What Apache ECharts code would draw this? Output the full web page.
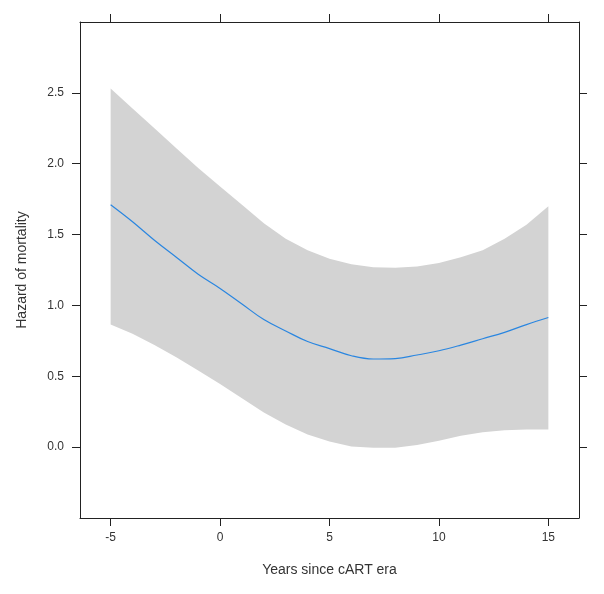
<!DOCTYPE html>
<html>
<head>
<meta charset="utf-8">
<script src="https://cdn.jsdelivr.net/npm/echarts@6/dist/echarts.min.js"></script>
<style>html,body{margin:0;padding:0;background:#fff;}#c{width:604px;height:594px;}</style>
</head>
<body>
<div id="c"></div>
<script>
var years = [-5,-4,-3,-2,-1,0,1,2,3,4,5,6,7,8,9,10,11,12,13,14,15];
var hazard = [1.71,1.59,1.46,1.34,1.22,1.12,1.01,0.90,0.82,0.745,0.695,0.645,0.622,0.625,0.65,0.68,0.72,0.765,0.81,0.865,0.915];
var upper = [2.53,2.39,2.25,2.11,1.97,1.84,1.71,1.58,1.47,1.39,1.33,1.29,1.27,1.265,1.275,1.30,1.34,1.39,1.47,1.57,1.70];
var lower = [0.865,0.80,0.72,0.635,0.54,0.445,0.345,0.245,0.16,0.09,0.04,0.005,-0.005,-0.005,0.015,0.045,0.08,0.105,0.12,0.125,0.125];
var xTicks = [-5,0,5,10,15];
var yTicks = [0,0.5,1,1.5,2,2.5];

var bandData = years.map(function(x,i){return [x, lower[i], upper[i]];});
var lineData = years.map(function(x,i){return [x, hazard[i]];});

var axisCol = '#222';
var txtCol = '#333';
var font = 'Liberation Sans, Arial, sans-serif';

function renderBand(params, api) {
  if (params.dataIndex !== 0) return null;
  var pts = [];
  for (var i = 0; i < years.length; i++) pts.push(api.coord([years[i], upper[i]]));
  for (var j = years.length - 1; j >= 0; j--) pts.push(api.coord([years[j], lower[j]]));
  return {type: 'polygon', shape: {points: pts}, style: {fill: '#d3d3d3', stroke: null}, silent: true};
}

var chart = echarts.init(document.getElementById('c'), null, {renderer:'canvas'});
chart.setOption({
  animation: false,
  backgroundColor: '#fff',
  grid: {left: 80, right: 25, top: 22, bottom: 76},
  xAxis: [{
    type: 'value', min: -6.4, max: 16.4, position: 'bottom', z: 10,
    name: 'Years since cART era', nameLocation: 'middle', nameGap: 45,
    nameTextStyle: {color: txtCol, fontSize: 14, fontFamily: font},
    axisLine: {show: true, onZero: false, lineStyle: {color: axisCol, width: 1}},
    axisTick: {show: true, inside: false, length: 8, customValues: xTicks, lineStyle: {color: axisCol}},
    axisLabel: {show: true, margin: 14, customValues: xTicks, color: txtCol, fontSize: 12, fontFamily: font},
    splitLine: {show: false}
  }, {
    type: 'value', min: -6.4, max: 16.4, position: 'top', z: 10,
    axisLine: {show: true, onZero: false, lineStyle: {color: axisCol, width: 1}},
    axisTick: {show: true, inside: false, length: 8, customValues: xTicks, lineStyle: {color: axisCol}},
    axisLabel: {show: false},
    splitLine: {show: false}
  }],
  yAxis: [{
    type: 'value', min: -0.5, max: 3.0, position: 'left', z: 10,
    name: 'Hazard of mortality', nameLocation: 'middle', nameGap: 51, nameRotate: 90,
    nameTextStyle: {color: txtCol, fontSize: 14, fontFamily: font},
    axisLine: {show: true, onZero: false, lineStyle: {color: axisCol, width: 1}},
    axisTick: {show: true, inside: false, length: 8, customValues: yTicks, lineStyle: {color: axisCol}},
    axisLabel: {show: true, margin: 16, customValues: yTicks, color: txtCol, fontSize: 12, fontFamily: font,
      formatter: function(v){return v.toFixed(1);}},
    splitLine: {show: false}
  }, {
    type: 'value', min: -0.5, max: 3.0, position: 'right', z: 10,
    axisLine: {show: true, onZero: false, lineStyle: {color: axisCol, width: 1}},
    axisTick: {show: true, inside: false, length: 8, customValues: yTicks, lineStyle: {color: axisCol}},
    axisLabel: {show: false},
    splitLine: {show: false}
  }],
  series: [{
    name: 'band', type: 'custom', data: bandData, renderItem: renderBand,
    encode: {x: 0, y: [1, 2]}, silent: true, z: 1
  }, {
    name: 'hazard', type: 'line', data: lineData, symbol: 'none', smooth: 0.4,
    lineStyle: {color: '#2a86e0', width: 1.2}, z: 3
  }]
});
</script>
</body>
</html>
